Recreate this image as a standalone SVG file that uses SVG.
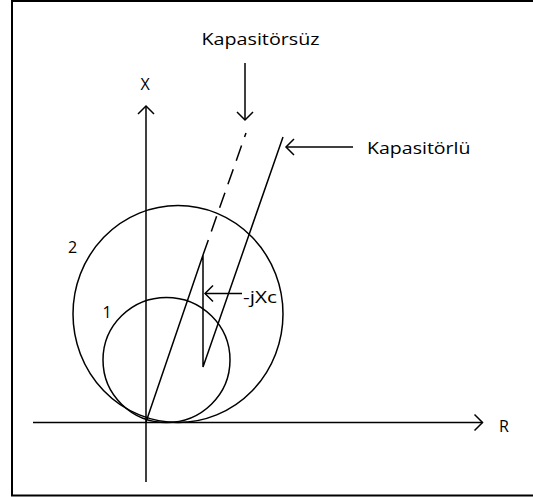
<svg xmlns="http://www.w3.org/2000/svg" width="533" height="497" viewBox="0 0 533 497">
<defs>
<style>
.ln{fill:none;stroke:#000;stroke-width:1.5}
.lbl{font-family:"Open Sans","Noto Sans","Liberation Sans",sans-serif;font-weight:400;font-size:16px;fill:#000}
</style>
<marker id="arr" viewBox="-10 -10 20 20" markerWidth="20" markerHeight="20" refX="0" refY="0" orient="auto" markerUnits="userSpaceOnUse">
<path d="M-8,-8 L0,0 L-8,8" fill="none" stroke="#000" stroke-width="1.5"/>
</marker>
</defs>
<rect x="12" y="1" width="530" height="494.5" fill="#fff" stroke="#000" stroke-width="2"/>
<g id="axes">
<line class="ln" x1="33" y1="422.5" x2="482.5" y2="422.5" marker-end="url(#arr)"/>
<line class="ln" x1="146" y1="482" x2="146" y2="106" marker-end="url(#arr)"/>
<text class="lbl" x="140.5" y="90">X</text>
<text class="lbl" x="499" y="432">R</text>
</g>
<g id="circle2">
<ellipse class="ln" cx="178" cy="314" rx="105" ry="108.5"/>
<text class="lbl" x="68" y="253">2</text>
</g>
<g id="circle1">
<ellipse class="ln" cx="166.5" cy="360" rx="63.5" ry="62.5"/>
<text class="lbl" x="102.5" y="318">1</text>
</g>
<g id="connectors">
<polyline class="ln" points="146,422 203,255 203,367 283,137"/>
<line class="ln" x1="203" y1="255" x2="246" y2="133" stroke-dasharray="16 9"/>
<line class="ln" x1="245" y1="63" x2="245" y2="120" marker-end="url(#arr)"/>
<line class="ln" x1="353" y1="147" x2="286" y2="147" marker-end="url(#arr)"/>
<line class="ln" x1="242" y1="293.5" x2="205" y2="293.5" marker-end="url(#arr)"/>
</g>
<g id="labels">
<text class="lbl" x="201.5" y="45" textLength="118" lengthAdjust="spacingAndGlyphs">Kapasitörsüz</text>
<text class="lbl" x="367" y="153.5" textLength="103.5" lengthAdjust="spacingAndGlyphs">Kapasitörlü</text>
<text class="lbl" x="243" y="302.5" textLength="34" lengthAdjust="spacingAndGlyphs">-jXc</text>
</g>
</svg>
